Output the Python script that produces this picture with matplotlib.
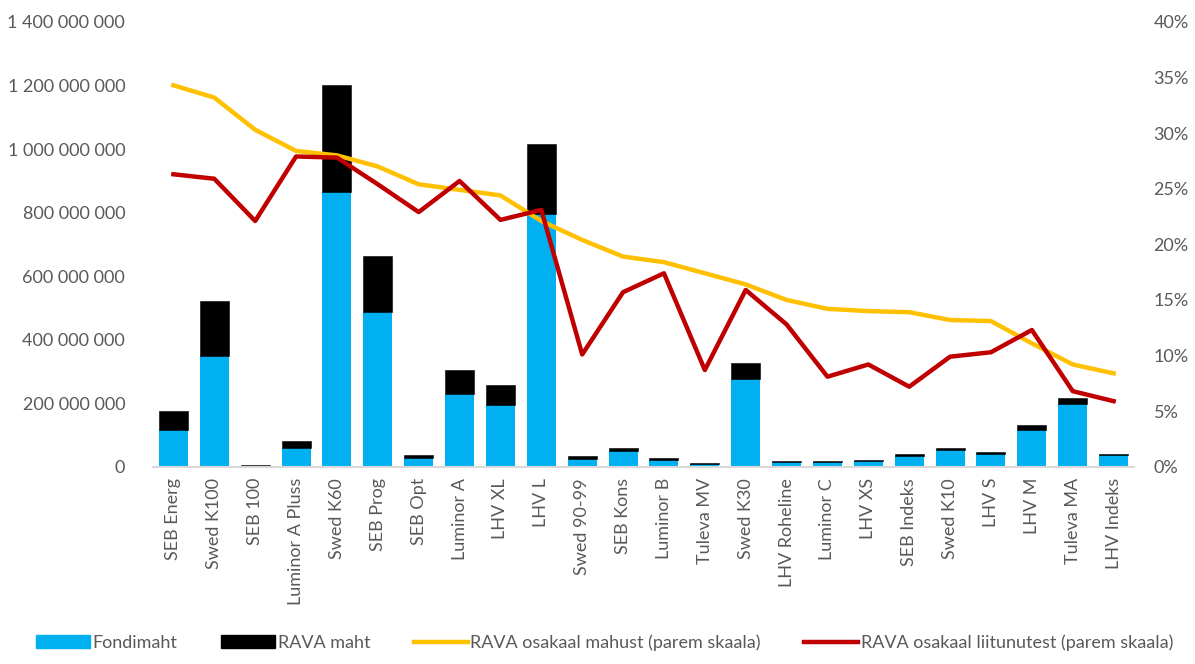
import numpy as np
import matplotlib
matplotlib.use("Agg")
import matplotlib.pyplot as plt
from matplotlib.ticker import FuncFormatter, MultipleLocator
from matplotlib.patches import Patch
from matplotlib.lines import Line2D

plt.rcParams['font.family'] = ['Lato', 'DejaVu Sans']

fondid = ["SEB Energ", "Swed K100", "SEB 100", "Luminor A Pluss", "Swed K60", "SEB Prog",
          "SEB Opt", "Luminor A", "LHV XL", "LHV L", "Swed 90-99", "SEB Kons", "Luminor B",
          "Tuleva MV", "Swed K30", "LHV Roheline", "Luminor C", "LHV XS", "SEB Indeks",
          "Swed K10", "LHV S", "LHV M", "Tuleva MA", "LHV Indeks"]

# fondimaht ja RAVA maht (eurodes)
fondimaht = np.array([116, 350, 4, 58, 866, 488, 27, 229, 194, 797, 25, 49, 22, 10,
                      276, 16, 16, 19, 35, 52, 39, 116, 197, 37]) * 1e6
kokku = np.array([176, 523, 5, 81, 1203, 664, 36, 304, 257, 1017, 33, 58, 26.5, 11,
                  328, 18, 18, 21, 40, 60, 46, 131, 217, 41]) * 1e6
rava_maht = kokku - fondimaht

# osakaalud (%)
osakaal_mahust = [34.3, 33.2, 30.3, 28.4, 28.0, 27.0, 25.4, 24.9, 24.4, 22.1, 20.4, 18.9,
                  18.4, 17.4, 16.4, 15.0, 14.2, 14.0, 13.9, 13.2, 13.1, 11.1, 9.2, 8.4]
osakaal_liitunutest = [26.3, 25.9, 22.1, 27.9, 27.8, 25.4, 22.9, 25.7, 22.2, 23.1, 10.1, 15.7,
                       17.4, 8.7, 15.9, 12.8, 8.1, 9.2, 7.2, 9.9, 10.3, 12.3, 6.8, 5.9]

SININE = '#00B0F0'
KOLLANE = '#FFC000'
PUNANE = '#C00000'
HALL = '#595959'

fig = plt.figure(figsize=(11.95, 6.64), dpi=100)
ax = fig.add_axes([0.128, 0.297, 0.821, 0.670])
x = np.arange(len(fondid))

ax.bar(x, fondimaht, width=0.71, color=SININE, linewidth=0, zorder=2)
ax.bar(x, rava_maht, width=0.71, bottom=fondimaht, color='black', edgecolor='black',
       linewidth=0.4, zorder=2)

ax.set_xlim(-0.5, len(fondid) - 0.5)
ax.set_ylim(0, 1.4e9)
ax.yaxis.set_major_locator(MultipleLocator(2e8))
ax.yaxis.set_major_formatter(FuncFormatter(lambda v, p: f"{int(v):,}".replace(",", " ")))
ax.set_xticks(x)
ax.set_xticklabels(fondid, rotation=90, fontsize=13, color=HALL)
ax.tick_params(axis='y', labelsize=13, labelcolor=HALL, length=0, pad=20)
ax.tick_params(axis='x', length=0, pad=8)
for s in ['top', 'right', 'left']:
    ax.spines[s].set_visible(False)
ax.spines['bottom'].set_color('#d9d9d9')
ax.spines['bottom'].set_linewidth(1.5)

ax2 = ax.twinx()
ax2.plot(x, osakaal_mahust, color=KOLLANE, lw=3.2, solid_joinstyle='round', zorder=3)
ax2.plot(x, osakaal_liitunutest, color=PUNANE, lw=3.2, solid_joinstyle='round', zorder=4)
ax2.set_ylim(0, 40)
ax2.yaxis.set_major_locator(MultipleLocator(5))
ax2.yaxis.set_major_formatter(FuncFormatter(lambda v, p: f"{int(v)}%"))
ax2.tick_params(axis='y', labelsize=13, labelcolor=HALL, length=0, pad=14)
for s in ax2.spines.values():
    s.set_visible(False)

handles = [Patch(color=SININE), Patch(color='black'),
           Line2D([], [], color=KOLLANE, lw=3.2), Line2D([], [], color=PUNANE, lw=3.2)]
labels = ["Fondimaht", "RAVA maht", "RAVA osakaal mahust (parem skaala)",
          "RAVA osakaal liitunutest (parem skaala)"]
leg = fig.legend(handles, labels, loc='lower center', bbox_to_anchor=(0.506, -0.005), ncol=4,
                 frameon=False, fontsize=13, handlelength=3.0, handleheight=0.7,
                 handletextpad=0.15, columnspacing=2.4)
for t in leg.get_texts():
    t.set_color(HALL)

fig.savefig("out.png", dpi=100, facecolor='white')
